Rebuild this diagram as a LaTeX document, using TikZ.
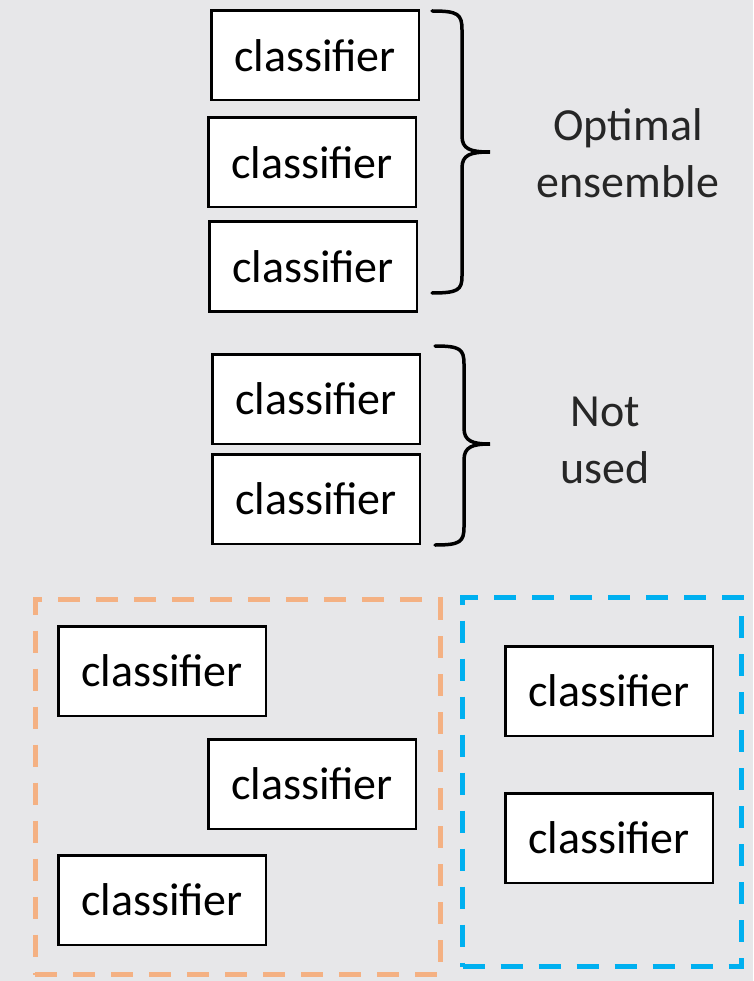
\documentclass[tikz,border=0pt]{standalone}
\usepackage{fontspec}
\setmainfont{Carlito}
\usepackage{tikz}
\usetikzlibrary{positioning}
\definecolor{slidebg}{RGB}{231,231,233}
\definecolor{pptorange}{RGB}{244,177,131}
\definecolor{pptblue}{RGB}{0,176,240}
\newcommand{\slidefont}{\fontsize{46}{57}\selectfont}

\begin{document}
\begin{tikzpicture}[x=1pt,y=-1pt,node distance=12pt]
\tikzstyle{clf} = [rectangle, draw=black, fill=white, line width=2.5pt, minimum width=207.5pt, minimum height=89.5pt, inner sep=0pt, font=\slidefont]
\tikzstyle{bracetxt} = [align=center, text=black!85, font=\slidefont]
\tikzstyle{curly} = [draw=black, line width=3.5pt, line cap=round]
\tikzstyle{group} = [rectangle, line width=5pt, dash pattern=on 22pt off 16pt, minimum width=#1]

% slide background
\fill[slidebg] (0,0) rectangle (753,981);
\useasboundingbox (0,0) rectangle (753,981);

% groups
\node[group=405pt, draw=pptorange, minimum height=375pt] (OLDPOOL) at (237.5,787) {};
\node[group=279pt, draw=pptblue, minimum height=369pt] (NEWPOOL) at (602,782) {};

% selected classifiers
\node[clf] (CLFA) at (315,55.5) {classifier};
\node[clf] (CLFB) [below=15pt of CLFA, xshift=-3pt] {classifier};
\node[clf] (CLFC) [below=12pt of CLFB, xshift=1pt] {classifier};

% unused classifiers
\node[clf] (CLFD) at (316,399) {classifier};
\node[clf] (CLFE) [below=8pt of CLFD] {classifier};

% candidate pools
\node[clf] (CLFF) at (162,671) {classifier};
\node[clf] (CLFG) at (312,784) {classifier};
\node[clf] (CLFH) at (162,900) {classifier};
\node[clf] (CLFI) at (609,691) {classifier};
\node[clf] (CLFJ) [below=55pt of CLFI] {classifier};

% braces
\path[curly] (432,11) .. controls (458,11) and (462,14) .. (462,30) -- (462,136)
   .. controls (462,149) and (470,152) .. (490,152)
   .. controls (470,152) and (462,155) .. (462,168) -- (462,276)
   .. controls (462,290) and (458,293) .. (432,293);
\path[curly] (435,346) .. controls (460,346) and (464,349) .. (464,364) -- (464,428)
   .. controls (464,441) and (472,444) .. (490,444)
   .. controls (472,444) and (464,447) .. (464,460) -- (464,527)
   .. controls (464,542) and (460,545) .. (435,545);

\node[bracetxt] (OPTLBL) at (628,153) {Optimal\\ensemble};
\node[bracetxt] (UNUSEDLBL) at (605,440) {Not\\used};
\end{tikzpicture}
\end{document}
